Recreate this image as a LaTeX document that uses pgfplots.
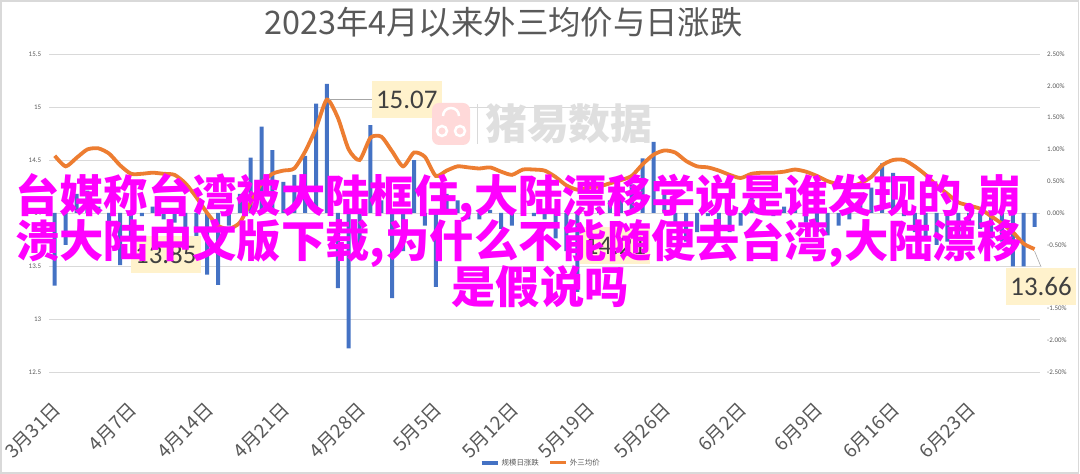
\documentclass[border=0pt]{standalone}
\usepackage{pgfplots}
\usepackage{pgfplotstable}
\pgfplotsset{compat=1.18}
\usepackage{fontspec}
\setmainfont{Carlito}
\newfontfamily\cjk{Noto Sans CJK SC}
\definecolor{barblue}{HTML}{4472C4}
\definecolor{lineorange}{HTML}{ED7D31}
\definecolor{txtgray}{HTML}{595959}
\definecolor{gridgray}{HTML}{D9D9D9}
\definecolor{lblbg}{HTML}{FFF2CC}
\definecolor{mag}{HTML}{FF00FF}
\definecolor{lbltext}{HTML}{404040}

\pgfplotstableread{
d price
0 14.54
1 14.44
2 14.52
3 14.60
4 14.61
5 14.56
6 14.45
7 14.37
8 14.37
9 14.38
10 14.37
11 14.36
12 14.28
13 14.15
14 14.00
15 13.88
16 13.85
17 13.91
18 14.10
19 14.28
20 14.37
21 14.40
22 14.42
23 14.58
24 14.80
25 15.07
26 14.90
27 14.60
28 14.50
29 14.71
30 14.72
31 14.58
32 14.44
33 14.57
34 14.53
35 14.35
36 14.40
37 14.44
38 14.43
39 14.42
40 14.43
41 14.39
42 14.36
43 14.41
44 14.41
45 14.40
46 14.34
47 14.26
48 14.22
49 14.24
50 14.25
51 14.28
52 14.31
53 14.35
54 14.46
55 14.55
56 14.59
57 14.57
58 14.49
59 14.44
60 14.43
61 14.40
62 14.36
63 14.33
64 14.37
65 14.38
66 14.38
67 14.39
68 14.41
69 14.39
70 14.35
71 14.30
72 14.27
73 14.25
74 14.28
75 14.34
76 14.45
77 14.50
78 14.50
79 14.44
80 14.36
81 14.26
82 14.18
83 14.10
84 14.07
85 14.04
86 13.97
87 13.90
88 13.82
89 13.71
90 13.66
}\pricetable

\pgfplotstableread{
d pct
0 -1.14
1 -0.50
2 0.30
3 0.35
4 0.10
5 -0.25
6 -0.82
7 -0.40
8 -0.05
9 0.10
10 -0.10
11 -0.15
12 -0.45
13 -0.60
14 -0.97
15 -1.13
16 -0.20
17 0.30
18 0.87
19 1.36
20 0.99
21 0.49
22 0.60
23 0.90
24 1.72
25 2.03
26 -1.18
27 -2.13
28 -0.50
29 1.38
30 0.20
31 -1.34
32 -0.60
33 0.83
34 -0.20
35 -1.16
36 0.30
37 0.20
38 -0.10
39 -0.10
40 0.05
41 -0.25
42 -0.20
43 0.30
44 -0.05
45 -0.10
46 -0.40
47 -0.60
48 -1.24
49 -0.05
50 0.10
51 0.20
52 0.25
53 0.45
54 0.86
55 1.12
56 0.30
57 -0.20
58 -0.45
59 -0.30
60 -0.05
61 -0.20
62 -0.30
63 -0.20
64 0.25
65 0.10
66 -0.05
67 0.10
68 0.15
69 -0.15
70 -0.30
71 -0.35
72 -0.20
73 -0.10
74 0.20
75 0.40
76 0.78
77 0.63
78 -0.05
79 -0.30
80 -0.40
81 -0.50
82 -0.45
83 -0.40
84 -0.15
85 -0.25
86 -0.40
87 -0.45
88 -0.84
89 -0.84
90 -0.22
}\pcttable

\pgfplotsset{myaxis/.style={scale only axis, width=990.7bp, height=318bp,
  at={(49.3bp,102bp)}, anchor=south west, xmin=-0.5, xmax=90.5}}

\begin{document}
\begin{tikzpicture}
\path[use as bounding box] (0,0) rectangle (1080bp,474bp);
\fill[white] (0,0) rectangle (1080bp,474bp);
\draw[gray!30, line width=1.5bp] (1bp,1bp) rectangle (1078.5bp,473bp);

% title
\node[font=\cjk\fontsize{32.5}{32.5}\selectfont, text=txtgray] at (503.5bp,452bp) {2023年4月以来外三均价与日涨跌};

% axis A: grid, x ticks, left labels
\begin{axis}[myaxis, ymin=12.5, ymax=15.5,
  ytick={12.5,13,13.5,14,14.5,15,15.5},
  yticklabels={12.5,13,13.5,14,14.5,15,15.5},
  ymajorgrids, grid style={gridgray, line width=0.8bp},
  axis line style={draw=none},
  ytick style={draw=none},
  yticklabel style={font=\fontsize{7}{8}\selectfont, text=txtgray, anchor=east, inner sep=0pt, xshift=-8bp},
  xtick={0,7,...,84},
  xticklabels={3月31日,4月7日,4月14日,4月21日,4月28日,5月5日,5月12日,5月19日,5月26日,6月2日,6月9日,6月16日,6月23日},
  xticklabel style={rotate=45, anchor=east, font=\cjk\fontsize{19}{19}\selectfont, text=txtgray, inner sep=0pt, yshift=-26bp, xshift=-22bp},
  major x tick style={draw=none},
  xtick pos=bottom,
  extra x ticks={-0.5,6.5,...,90.5},
  extra x tick labels={},
  extra x tick style={grid=none, major tick length=5bp, tick align=outside, tick style={draw=gridgray, line width=0.8bp}},
]
\addplot[draw=none, forget plot] coordinates {(0,14)};
\draw[gridgray, line width=0.8bp] (axis cs:-0.5,12.5) -- (axis cs:90.5,12.5);
\end{axis}

% axis B: bars, right labels, legend
\begin{axis}[myaxis, ymin=-2.5, ymax=2.5,
  axis line style={draw=none},
  xtick=\empty,
  ytick={-2.5,-2,-1.5,-1,-0.5,0,0.5,1,1.5,2,2.5},
  yticklabels={-2.50\%,-2.00\%,-1.50\%,-1.00\%,-0.50\%,0.00\%,0.50\%,1.00\%,1.50\%,2.00\%,2.50\%},
  ytick pos=right,
  ytick style={draw=none},
  yticklabel style={font=\fontsize{7}{8}\selectfont, text=txtgray, anchor=west, inner sep=0pt, xshift=7bp},
  legend style={at={(0.496,-0.286)}, anchor=center, draw=none, fill=none,
    legend columns=2, font=\cjk\fontsize{7.5}{8}\selectfont, text=txtgray,
    /tikz/every even column/.append style={column sep=8bp}},
  legend image code/.code={\draw[#1] (0bp,0bp) -- (16bp,0bp);},
]
\addplot[ybar, bar width=4bp, fill=barblue, draw=none, forget plot] table[x=d,y=pct]{\pcttable};
\addlegendimage{barblue, line width=4bp}
\addlegendentry{规模日涨跌}
\addlegendimage{lineorange, line width=3bp}
\addlegendentry{外三均价}
\end{axis}

% axis C: price line and labels
\begin{axis}[myaxis, ymin=12.5, ymax=15.5, hide axis, clip=false]
\addplot[lineorange, line width=3.8bp, smooth, tension=0.4] table[x=d,y=price]{\pricetable};
\draw[gray!70, line width=0.6bp] (axis cs:25.2,15.07) -- (axis cs:29.1,15.07);
\node[fill=lblbg, inner sep=0pt, minimum width=70bp, minimum height=37bp, anchor=west,
  font=\fontsize{27}{27}\selectfont, text=lbltext] at (axis cs:29.1,15.07) {15.07};
\node[fill=lblbg, inner sep=0pt, minimum width=70bp, minimum height=37bp,
  font=\fontsize{27}{27}\selectfont, text=lbltext] at (axis cs:10.2,13.61) {13.85};
\node[fill=lblbg, inner sep=0pt, minimum width=70bp, minimum height=37bp,
  font=\fontsize{27}{27}\selectfont, text=lbltext] at (axis cs:51.5,13.69) {14.21};
\draw[gray!70, line width=0.6bp] (axis cs:90,13.64) -- (axis cs:90.6,13.49);
\node[fill=lblbg, inner sep=0pt, minimum width=70bp, minimum height=37bp,
  font=\fontsize{27}{27}\selectfont, text=lbltext] at (axis cs:90.6,13.31) {13.66};
\end{axis}

% watermark
\fill[red!15, rounded corners=7bp] (432bp,329bp) rectangle (470bp,371bp);
\draw[white, line width=2.5bp] (442bp,343bp) circle (5bp);
\draw[white, line width=2.5bp] (460bp,343bp) circle (5bp);
\draw[white, line width=2.5bp] (443bp,358bp) arc (180:0:8bp);
\draw[gray!30, line width=1bp] (477bp,330bp) -- (477bp,370bp);
\node[anchor=west, font=\cjk\bfseries\fontsize{42}{42}\selectfont, text=gray!25, inner sep=0pt] at (485bp,350bp) {猪易数据};

% overlay text
\node[anchor=west, inner sep=0pt, font=\cjk\bfseries\fontsize{44.5}{44.5}\selectfont, text=mag] at (15bp,276bp) {台媒称台湾被大陆框住,大陆漂移学说是谁发现的,崩};
\node[anchor=west, inner sep=0pt, font=\cjk\bfseries\fontsize{44.5}{44.5}\selectfont, text=mag] at (15bp,231bp) {溃大陆中文版下载,为什么不能随便去台湾,大陆漂移};
\node[inner sep=0pt, font=\cjk\bfseries\fontsize{44.5}{44.5}\selectfont, text=mag] at (540bp,187bp) {是假说吗};
\end{tikzpicture}
\end{document}
